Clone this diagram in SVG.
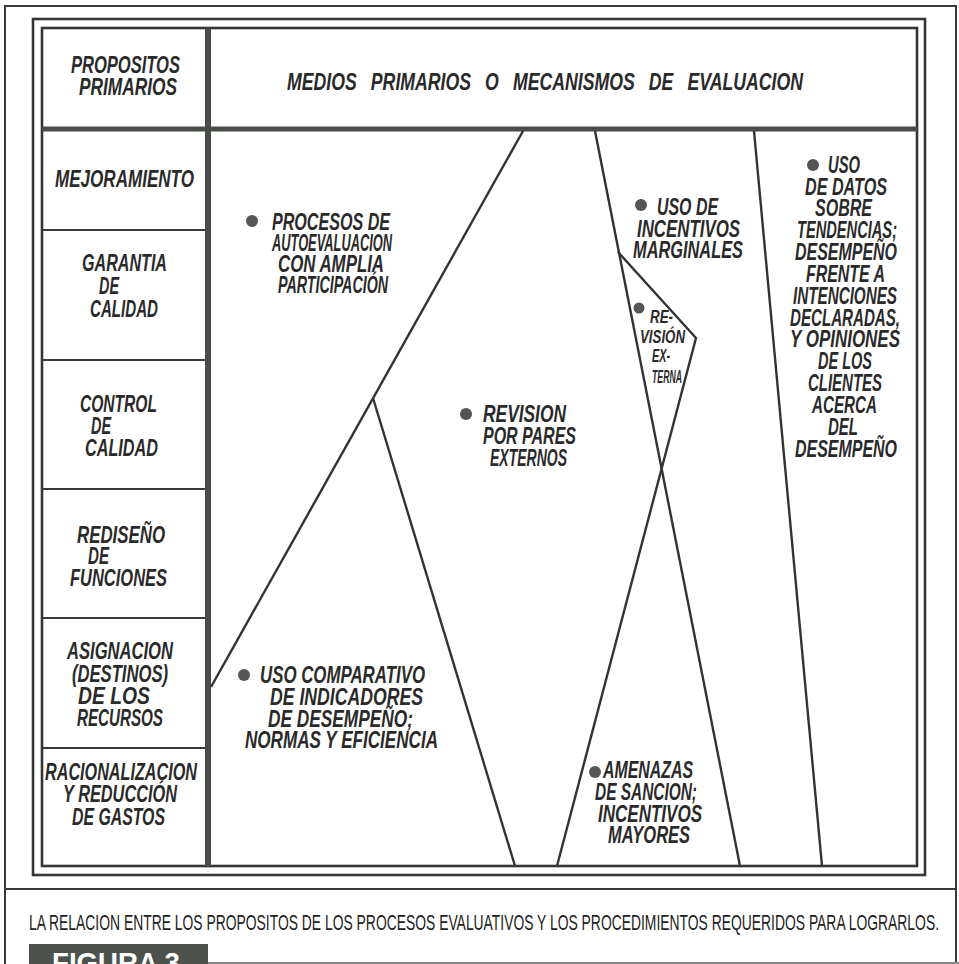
<svg xmlns="http://www.w3.org/2000/svg" width="959" height="964" viewBox="0 0 959 964">
  <style>
    .page { fill: none; stroke: #3a3a3a; stroke-width: 2; }
    .frame { fill: none; stroke: #353535; stroke-width: 2.6; }
    .thick { stroke: #484d48; stroke-width: 6; fill: none; }
    .rule { stroke: #3a3a3a; stroke-width: 2; fill: none; }
    .conn { stroke: #333; stroke-width: 2.4; fill: none; stroke-linejoin: miter; }
    .lbl { font-family: "Liberation Sans", Arial, sans-serif; font-style: italic; font-weight: bold;
           font-size: 23px; fill: #2a2a2a; }
    .sm { font-size: 19px; }
    .dot { fill: #555; }
    .cap { font-family: "Liberation Sans", Arial, sans-serif; font-size: 22px; fill: #222; }
    .fig { font-family: "Liberation Sans", Arial, sans-serif; font-weight: bold; font-size: 30px; fill: #fff; }
  </style>

  <!-- page border -->
  <path class="page" d="M5,964 V6 H956 V964"/>

  <!-- double frame around the table -->
  <rect class="frame" x="33" y="19" width="892" height="856"/>
  <rect class="frame" x="42" y="28" width="875" height="838"/>

  <!-- header rule and column divider -->
  <line class="thick" x1="42" y1="129" x2="917" y2="129" style="stroke-width:5"/>
  <line class="thick" x1="208" y1="28" x2="208" y2="866"/>

  <!-- row rules of the purposes column -->
  <g id="row-rules">
    <line class="rule" x1="42" y1="230" x2="205" y2="230"/>
    <line class="rule" x1="42" y1="360" x2="205" y2="360"/>
    <line class="rule" x1="42" y1="489" x2="205" y2="489"/>
    <line class="rule" x1="42" y1="618" x2="205" y2="618"/>
    <line class="rule" x1="42" y1="748" x2="205" y2="748"/>
  </g>

  <!-- column headings -->
  <g id="head-propositos">
    <text class="lbl"><tspan x="71" y="73" textLength="109" lengthAdjust="spacingAndGlyphs">PROPOSITOS</tspan><tspan x="79" y="95" textLength="98" lengthAdjust="spacingAndGlyphs">PRIMARIOS</tspan></text>
  </g>
  <g id="head-medios">
    <text class="lbl" x="287" y="90" textLength="516" lengthAdjust="spacingAndGlyphs" style="word-spacing:12px">MEDIOS PRIMARIOS O MECANISMOS DE EVALUACION</text>
  </g>

  <!-- purposes -->
  <g id="p-mejoramiento">
    <text class="lbl" x="55" y="187" textLength="139" lengthAdjust="spacingAndGlyphs">MEJORAMIENTO</text>
  </g>
  <g id="p-garantia">
    <text class="lbl"><tspan x="82" y="271" textLength="85" lengthAdjust="spacingAndGlyphs">GARANTIA</tspan><tspan x="99" y="294" textLength="20" lengthAdjust="spacingAndGlyphs">DE</tspan><tspan x="90" y="317" textLength="68" lengthAdjust="spacingAndGlyphs">CALIDAD</tspan></text>
  </g>
  <g id="p-control">
    <text class="lbl"><tspan x="80" y="412" textLength="77" lengthAdjust="spacingAndGlyphs">CONTROL</tspan><tspan x="91" y="434" textLength="20" lengthAdjust="spacingAndGlyphs">DE</tspan><tspan x="85" y="456" textLength="73" lengthAdjust="spacingAndGlyphs">CALIDAD</tspan></text>
  </g>
  <g id="p-rediseno">
    <text class="lbl"><tspan x="77" y="543" textLength="88" lengthAdjust="spacingAndGlyphs">REDISEÑO</tspan><tspan x="88" y="564" textLength="21" lengthAdjust="spacingAndGlyphs">DE</tspan><tspan x="70" y="586" textLength="97" lengthAdjust="spacingAndGlyphs">FUNCIONES</tspan></text>
  </g>
  <g id="p-asignacion">
    <text class="lbl"><tspan x="67" y="659" textLength="106" lengthAdjust="spacingAndGlyphs">ASIGNACION</tspan><tspan x="72" y="682" textLength="96" lengthAdjust="spacingAndGlyphs">(DESTINOS)</tspan><tspan x="78" y="704" textLength="72" lengthAdjust="spacingAndGlyphs">DE LOS</tspan><tspan x="77" y="726" textLength="86" lengthAdjust="spacingAndGlyphs">RECURSOS</tspan></text>
  </g>
  <g id="p-racionalizacion">
    <text class="lbl"><tspan x="45" y="780" textLength="152" lengthAdjust="spacingAndGlyphs">RACIONALIZACION</tspan><tspan x="63" y="802" textLength="114" lengthAdjust="spacingAndGlyphs">Y REDUCCIÓN</tspan><tspan x="72" y="825" textLength="93" lengthAdjust="spacingAndGlyphs">DE GASTOS</tspan></text>
  </g>

  <!-- boundaries between the evaluation mechanisms -->
  <g id="connectors">
    <polyline class="conn" points="523,131 211,687"/>
    <polyline class="conn" points="373,398 515,866"/>
    <polyline class="conn" points="595,131 740,866"/>
    <polyline class="conn" points="754,131 822,866"/>
    <polyline class="conn" points="618,252 696,338 557,866"/>
  </g>

  <!-- mechanisms -->
  <g id="m-autoevaluacion">
    <circle class="dot" cx="252" cy="221" r="6"/>
    <text class="lbl"><tspan x="272" y="230" textLength="118" lengthAdjust="spacingAndGlyphs">PROCESOS DE</tspan><tspan x="272" y="251" textLength="120" lengthAdjust="spacingAndGlyphs">AUTOEVALUACION</tspan><tspan x="278" y="272" textLength="106" lengthAdjust="spacingAndGlyphs">CON AMPLIA</tspan><tspan x="278" y="293" textLength="110" lengthAdjust="spacingAndGlyphs">PARTICIPACIÓN</tspan></text>
  </g>
  <g id="m-incentivos-marginales">
    <circle class="dot" cx="641" cy="205" r="6"/>
    <text class="lbl"><tspan x="657" y="215" textLength="61" lengthAdjust="spacingAndGlyphs">USO DE</tspan><tspan x="637" y="237" textLength="103" lengthAdjust="spacingAndGlyphs">INCENTIVOS</tspan><tspan x="633" y="258" textLength="110" lengthAdjust="spacingAndGlyphs">MARGINALES</tspan></text>
  </g>
  <g id="m-revision-externa">
    <circle class="dot" cx="639" cy="308" r="5.5"/>
    <text class="lbl sm"><tspan x="650" y="323" textLength="23" lengthAdjust="spacingAndGlyphs">RE-</tspan><tspan x="640" y="343" textLength="45" lengthAdjust="spacingAndGlyphs">VISIÓN</tspan><tspan x="652" y="362" textLength="18" lengthAdjust="spacingAndGlyphs">EX-</tspan><tspan x="652" y="383" textLength="30" lengthAdjust="spacingAndGlyphs">TERNA</tspan></text>
  </g>
  <g id="m-datos">
    <circle class="dot" cx="813" cy="165" r="6"/>
    <text class="lbl"><tspan x="828" y="173" textLength="32" lengthAdjust="spacingAndGlyphs">USO</tspan><tspan x="805" y="195" textLength="82" lengthAdjust="spacingAndGlyphs">DE DATOS</tspan><tspan x="815" y="216" textLength="57" lengthAdjust="spacingAndGlyphs">SOBRE</tspan><tspan x="797" y="238" textLength="100" lengthAdjust="spacingAndGlyphs">TENDENCIAS;</tspan><tspan x="795" y="260" textLength="102" lengthAdjust="spacingAndGlyphs">DESEMPEÑO</tspan><tspan x="806" y="282" textLength="79" lengthAdjust="spacingAndGlyphs">FRENTE A</tspan><tspan x="793" y="304" textLength="104" lengthAdjust="spacingAndGlyphs">INTENCIONES</tspan><tspan x="790" y="326" textLength="110" lengthAdjust="spacingAndGlyphs">DECLARADAS,</tspan><tspan x="790" y="347" textLength="110" lengthAdjust="spacingAndGlyphs">Y OPINIONES</tspan><tspan x="818" y="369" textLength="54" lengthAdjust="spacingAndGlyphs">DE LOS</tspan><tspan x="808" y="391" textLength="74" lengthAdjust="spacingAndGlyphs">CLIENTES</tspan><tspan x="812" y="413" textLength="65" lengthAdjust="spacingAndGlyphs">ACERCA</tspan><tspan x="828" y="435" textLength="30" lengthAdjust="spacingAndGlyphs">DEL</tspan><tspan x="795" y="457" textLength="102" lengthAdjust="spacingAndGlyphs">DESEMPEÑO</tspan></text>
  </g>
  <g id="m-pares">
    <circle class="dot" cx="466" cy="414" r="6"/>
    <text class="lbl"><tspan x="483" y="422" textLength="83" lengthAdjust="spacingAndGlyphs">REVISION</tspan><tspan x="483" y="444" textLength="93" lengthAdjust="spacingAndGlyphs">POR PARES</tspan><tspan x="490" y="466" textLength="77" lengthAdjust="spacingAndGlyphs">EXTERNOS</tspan></text>
  </g>
  <g id="m-indicadores">
    <circle class="dot" cx="244" cy="675" r="6"/>
    <text class="lbl"><tspan x="260" y="683" textLength="165" lengthAdjust="spacingAndGlyphs">USO COMPARATIVO</tspan><tspan x="270" y="705" textLength="153" lengthAdjust="spacingAndGlyphs">DE INDICADORES</tspan><tspan x="268" y="727" textLength="145" lengthAdjust="spacingAndGlyphs">DE DESEMPEÑO;</tspan><tspan x="245" y="748" textLength="193" lengthAdjust="spacingAndGlyphs">NORMAS Y EFICIENCIA</tspan></text>
  </g>
  <g id="m-sancion">
    <circle class="dot" cx="595" cy="772" r="6"/>
    <text class="lbl"><tspan x="603" y="778" textLength="90" lengthAdjust="spacingAndGlyphs">AMENAZAS</tspan><tspan x="595" y="800" textLength="102" lengthAdjust="spacingAndGlyphs">DE SANCION;</tspan><tspan x="598" y="822" textLength="104" lengthAdjust="spacingAndGlyphs">INCENTIVOS</tspan><tspan x="608" y="843" textLength="82" lengthAdjust="spacingAndGlyphs">MAYORES</tspan></text>
  </g>

  <!-- caption -->
  <line class="rule" x1="5" y1="889" x2="956" y2="889"/>
  <text class="cap" x="29" y="930" textLength="910" lengthAdjust="spacingAndGlyphs">LA RELACION ENTRE LOS PROPOSITOS DE LOS PROCESOS EVALUATIVOS Y LOS PROCEDIMIENTOS REQUERIDOS PARA LOGRARLOS.</text>

  <!-- figure tag -->
  <g id="figure-tag">
    <rect x="29" y="944" width="179" height="22" fill="#4d524d"/>
    <line x1="208" y1="963" x2="959" y2="963" stroke="#888" stroke-width="2"/>
    <text class="fig" x="52" y="973" textLength="128" lengthAdjust="spacingAndGlyphs">FIGURA 3</text>
  </g>
</svg>
